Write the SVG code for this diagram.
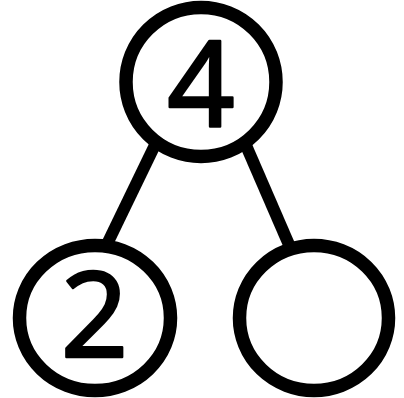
<svg xmlns="http://www.w3.org/2000/svg" width="404" height="398" viewBox="0 0 404 398">
<style>
.node{fill:#fff;stroke:#000;stroke-width:13.5}
.edge{stroke:#000;stroke-width:12;fill:none}
.lbl{font-family:"Noto Sans","DejaVu Sans",sans-serif;font-size:118px;fill:#000;stroke:#000;stroke-width:2.5;stroke-linejoin:round;text-anchor:middle}
</style>
<rect width="404" height="398" fill="#fff"/>
<g id="connectors">
<line class="edge" x1="159.8" y1="135" x2="104.2" y2="250"/>
<line class="edge" x1="241.5" y1="135" x2="291.3" y2="250"/>
</g>
<g id="node-top">
<ellipse class="node" cx="201" cy="82" rx="75" ry="74.5"/>
<text class="lbl" x="201" y="126">4</text>
</g>
<g id="node-left">
<ellipse class="node" cx="95" cy="318" rx="75.5" ry="72.5"/>
<text class="lbl" x="94.5" y="357">2</text>
</g>
<g id="node-right">
<ellipse class="node" cx="314" cy="318" rx="74.5" ry="72.5"/>
</g>
</svg>
